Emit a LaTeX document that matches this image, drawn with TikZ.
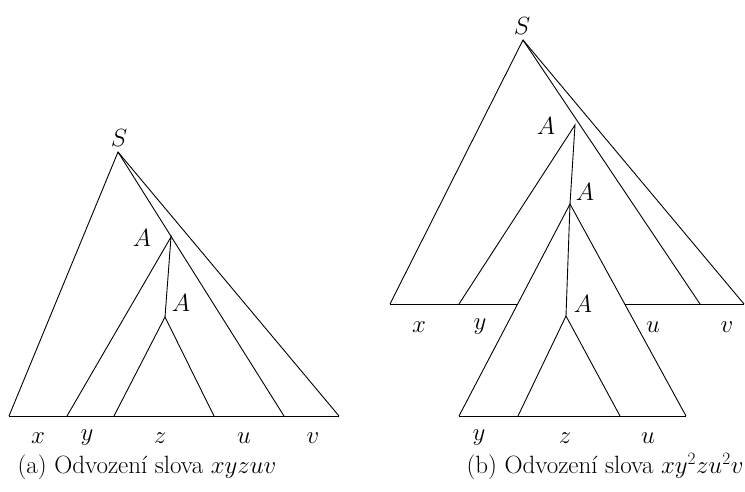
\documentclass[tikz,border=0pt]{standalone}
\usepackage{amsmath, amssymb}
\usepackage{tikz}
\usetikzlibrary{calc}

\begin{document}
\begin{tikzpicture}[x=1pt, y=-1pt, line width=0.9pt,
  lbl/.style={inner sep=0pt, font=\fontsize{27}{32}\selectfont},
  captiontext/.style={inner sep=0pt, font=\fontsize{25}{30}\selectfont}]
\useasboundingbox (0,0) rectangle (745,491);

% (a) one pumping step
\coordinate (aS) at (118,152);
\coordinate (aA1) at (171,237);
\coordinate (aA2) at (165,317);
\coordinate (ab1) at (9,416);
\coordinate (ab2) at (67,416);
\coordinate (ab3) at (114,416);
\coordinate (ab4) at (214,416);
\coordinate (ab5) at (284,416);
\coordinate (ab6) at (339,416);
\draw (ab1) -- (aS) -- (ab6);
\draw (aS) -- (ab5);
\draw (ab1) -- (ab6);
\draw (ab2) -- (aA1) -- (aA2);
\draw (ab3) -- (aA2) -- (ab4);

\node[lbl] (aSl) at (119,138) {$S$};
\node[lbl] (aA1l) at (142,238) {$A$};
\node[lbl] (aA2l) at (181,303) {$A$};
\node[lbl] (ax) at (38,438) {$x$};
\node[lbl] (ay) at (87,438) {$y$};
\node[lbl] (az) at (160,438) {$z$};
\node[lbl] (au) at (244,438) {$u$};
\node[lbl] (av) at (313,438) {$v$};
\node[captiontext] (acap) at (147,467) {(a) Odvození slova $xyzuv$};

% (b) the A-subtree repeated
\coordinate (bS) at (523,40);
\coordinate (bA1) at (575,125);
\coordinate (bA2) at (570,204);
\coordinate (bA3) at (566,316);
\coordinate (bt1) at (390,304);
\coordinate (bt2) at (459,304);
\coordinate (bt3) at (518,304);
\coordinate (bt4) at (625,304);
\coordinate (bt5) at (700,304);
\coordinate (bt6) at (744,304);
\coordinate (bb1) at (459,416);
\coordinate (bb2) at (518,416);
\coordinate (bb3) at (620,416);
\coordinate (bb4) at (686,416);
\draw (bt1) -- (bS) -- (bt6);
\draw (bS) -- (bt5);
\draw (bt1) -- (bt3);
\draw (bt4) -- (bt6);
\draw (bt2) -- (bA1) -- (bA2);
\draw (bb1) -- (bA2) -- (bb4);
\draw (bA2) -- (bA3);
\draw (bb2) -- (bA3) -- (bb3);
\draw (bb1) -- (bb4);

\node[lbl] (bSl) at (522,26) {$S$};
\node[lbl] (bA1l) at (546,126) {$A$};
\node[lbl] (bA2l) at (585,192) {$A$};
\node[lbl] (bA3l) at (583,304) {$A$};
\node[lbl] (bx) at (419,327) {$x$};
\node[lbl] (by) at (480,327) {$y$};
\node[lbl] (bu) at (653,327) {$u$};
\node[lbl] (bv) at (727,327) {$v$};
\node[lbl] (by2) at (479,438) {$y$};
\node[lbl] (bz) at (565,438) {$z$};
\node[lbl] (bu2) at (648,438) {$u$};
\node[captiontext] (bcap) at (605,467) {(b) Odvození slova $xy^2zu^2v$};
\end{tikzpicture}
\end{document}
